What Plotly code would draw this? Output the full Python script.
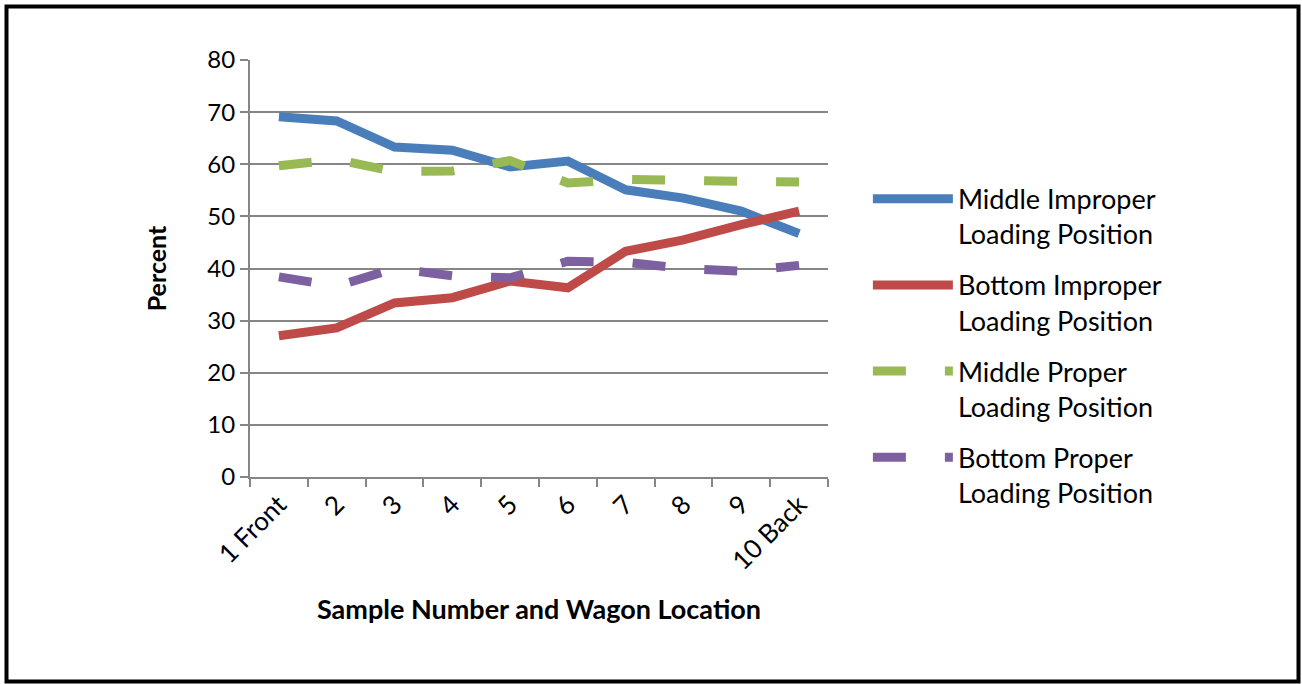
import plotly.graph_objects as go

categories = ["1 Front", "2", "3", "4", "5", "6", "7", "8", "9", "10 Back"]
middle_improper = [69.1, 68.3, 63.3, 62.7, 59.5, 60.6, 55.1, 53.5, 51.0, 46.7]
bottom_improper = [27.1, 28.6, 33.4, 34.4, 37.6, 36.3, 43.3, 45.5, 48.4, 51.0]
middle_proper = [59.7, 60.9, 58.6, 58.7, 60.7, 56.4, 57.1, 57.1, 56.7, 56.6]
bottom_proper = [38.4, 36.6, 40.0, 38.6, 38.2, 41.4, 41.2, 40.0, 39.5, 40.6]

series = [
    ("Middle Improper<br>Loading Position", middle_improper, "#4A7EBB", "solid"),
    ("Bottom Improper<br>Loading Position", bottom_improper, "#BE4B48", "solid"),
    ("Middle Proper<br>Loading Position", middle_proper, "#98B954", "33px,39px"),
    ("Bottom Proper<br>Loading Position", bottom_proper, "#7D60A0", "33px,39px"),
]

FONT = "Lato"
fig = go.Figure()
for i, (name, vals, color, dash) in enumerate(series):
    fig.add_trace(go.Scatter(
        x=categories, y=vals, name=name, mode="lines",
        line=dict(color=color, width=9, dash=dash),
        legendgroup=f"g{i}",
    ))

fig.update_layout(
    width=1302, height=684,
    margin=dict(l=250, r=474, t=60, b=207),
    paper_bgcolor="white", plot_bgcolor="white",
    font=dict(family=FONT, size=24, color="black"),
    showlegend=True,
    legend=dict(
        x=1.069, y=0.315, xanchor="left", yanchor="middle",
        font=dict(family=FONT, size=27, color="black"),
        traceorder="grouped", tracegroupgap=13, valign="top",
        itemwidth=80, bgcolor="rgba(0,0,0,0)",
    ),
    xaxis=dict(
        type="category", range=[-0.5, 9.5], tickson="boundaries",
        ticks="outside", ticklen=8, tickcolor="#868686", tickwidth=2,
        showline=True, linecolor="#868686", linewidth=2,
        showgrid=False, tickangle=-45,
        tickfont=dict(family=FONT, size=26),
        title=dict(text="<b>Sample Number and Wagon Location</b>",
                   font=dict(family=FONT, size=27), standoff=25),
    ),
    yaxis=dict(
        range=[0, 80], dtick=10, tick0=0,
        ticks="outside", ticklen=8, tickcolor="#868686", tickwidth=2,
        showline=True, linecolor="#868686", linewidth=2,
        showgrid=True, gridcolor="#868686", gridwidth=2,
        zeroline=False,
        tickfont=dict(family=FONT, size=24),
        title=dict(text="<b>Percent</b>", font=dict(family=FONT, size=25),
                   standoff=34),
    ),
)

fig.add_shape(type="rect", xref="paper", yref="paper",
              x0=(6.5 - 250) / 578, x1=(1298.5 - 250) / 578,
              y0=(684 - 681.5 - 207) / 417, y1=(684 - 6.5 - 207) / 417,
              line=dict(color="black", width=4), fillcolor="rgba(0,0,0,0)",
              layer="above")

fig.write_html(
    "out.html",
    config={"displayModeBar": False},
    post_script="document.body.style.margin='0';document.body.style.overflow='hidden';",
)
